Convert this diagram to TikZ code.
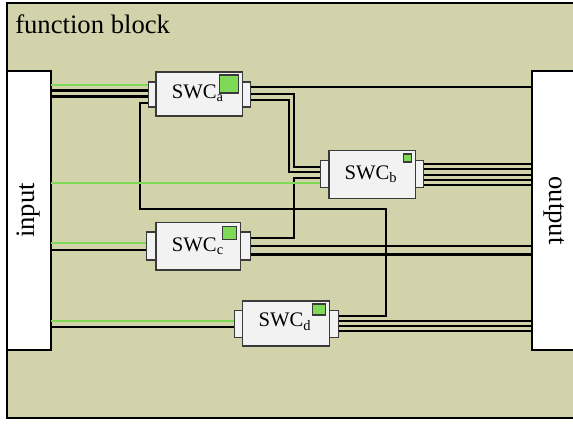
\documentclass[tikz,border=0pt]{standalone}
\usepackage{fontspec}
\setmainfont{Liberation Serif}
\definecolor{bgol}{HTML}{D2D2AB}
\definecolor{wgreen}{HTML}{7DDA52}
\definecolor{sqgreen}{HTML}{7ED957}
\definecolor{boxfill}{HTML}{F2F2F2}
\definecolor{boxline}{HTML}{3A3A3A}
\begin{document}
\begin{tikzpicture}[x=0.75pt,y=-0.75pt,
  wd/.style={minimum width=#1*0.75pt},
  ht/.style={minimum height=#1*0.75pt},
  blk/.style={draw=black,line width=1.2pt,fill=white,inner sep=0pt,outer sep=0pt},
  swcbox/.style={draw=boxline,line width=0.9pt,fill=boxfill,inner sep=0pt,outer sep=0pt},
  port/.style={draw=boxline,line width=0.8pt,fill=boxfill,inner sep=0pt,outer sep=0pt},
  gsq/.style={draw=boxline,line width=0.8pt,fill=sqgreen,inner sep=0pt,outer sep=0pt},
  wire/.style={draw=black,line width=1.6pt},
  gwire/.style={draw=wgreen,line width=1.7pt},
  swctxt/.style={font=\fontsize{15.5}{18}\selectfont,inner sep=0pt,anchor=base west},
  bigtxt/.style={font=\fontsize{20}{24}\selectfont,inner sep=0pt}]
\useasboundingbox (0,0) rectangle (573,426);
\fill[white] (0,0) rectangle (573,426);
% frame
\node[draw=black,line width=1.6pt,fill=bgol,inner sep=0pt,outer sep=0pt,wd=573,ht=415,anchor=north west] (frame) at (7,3) {};
\node[bigtxt,anchor=base west] (title) at (15,33.5) {function block};
% input / output blocks
\node[blk,wd=44,ht=279] (input) at (29,210.5) {};
\node[bigtxt,rotate=90] (intxt) at (input.center) {input};
\node[blk,wd=50,ht=279,anchor=north west] (output) at (532,71) {};
\node[bigtxt,rotate=-90] (outtxt) at (554,210.5) {output};
% SWC port positions
\coordinate (aLp) at (152.3,94.5);
\coordinate (aRp) at (246.6,94.5);
\coordinate (bLp) at (324.9,174);
\coordinate (bRp) at (419.3,174);
\coordinate (cLp) at (151.3,246);
\coordinate (cRp) at (245.7,246);
\coordinate (dLp) at (238.2,324);
\coordinate (dRp) at (334,324);
\node[port,wd=8.5,ht=25] (aL) at (aLp) {};
\node[port,wd=8.2,ht=25] (aR) at (aRp) {};
\node[port,wd=8.3,ht=26.6] (bL) at (bLp) {};
\node[port,wd=8,ht=26.6] (bR) at (bRp) {};
\node[port,wd=9.3,ht=28] (cL) at (cLp) {};
\node[port,wd=10,ht=28] (cR) at (cRp) {};
\node[port,wd=8.3,ht=26.6] (dL) at (dLp) {};
\node[port,wd=9.4,ht=26.6] (dR) at (dRp) {};
% wires: input -> SWCa
\draw[gwire] (input.east |- 0,85) -- (aL.west |- 0,85);
\draw[wire] (input.east |- 0,90.5) -- (aL.west |- 0,90.5);
\draw[wire] (input.east |- 0,96.5) -- (aL.west |- 0,96.5);
% loop SWCa left <-> SWCd right
\coordinate (lp1) at (140,103);
\coordinate (lp2) at (140,209);
\coordinate (lp3) at (386,209);
\coordinate (lp4) at (386,316);
\draw[wire] (aL.west |- lp1) -- (lp1) -- (lp2) -- (lp3) -- (lp4) -- (dR.east |- lp4);
% SWCa right
\draw[wire] (aR.east |- 0,87) -- (output.west |- 0,87);
\coordinate (ab1) at (294.3,94);
\coordinate (ab2) at (294.3,166.7);
\coordinate (ab3) at (289.3,100);
\coordinate (ab4) at (289.3,171.7);
\draw[wire] (aR.east |- ab1) -- (ab1) -- (ab2) -- (bL.west |- ab2);
\draw[wire] (aR.east |- ab3) -- (ab3) -- (ab4) -- (bL.west |- ab4);
% SWCc -> SWCb
\coordinate (cb1) at (294,238);
\coordinate (cb2) at (294,177.7);
\draw[wire] (cR.east |- cb1) -- (cb1) -- (cb2) -- (bL.west |- cb2);
% input -> SWCb
\draw[gwire] (input.east |- 0,183.3) -- (bL.west |- 0,183.3);
% SWCb -> output
\foreach \yy in {164,169.3,174.6,179.9,185.2}
  \draw[wire] (bR.east |- 0,\yy) -- (output.west |- 0,\yy);
% input -> SWCc
\draw[gwire] (input.east |- 0,242.7) -- (cL.west |- 0,242.7);
\draw[wire] (input.east |- 0,250) -- (cL.west |- 0,250);
% SWCc -> output
\draw[wire] (cR.east |- 0,246.3) -- (output.west |- 0,246.3);
\draw[wire] (cR.east |- 0,254.5) -- (output.west |- 0,254.5);
% input -> SWCd
\draw[gwire] (input.east |- 0,320.7) -- (dL.west |- 0,320.7);
\draw[wire] (input.east |- 0,326.7) -- (dL.west |- 0,326.7);
% SWCd -> output
\foreach \yy in {321,326,331}
  \draw[wire] (dR.east |- 0,\yy) -- (output.west |- 0,\yy);
% redraw ports on top of wires
\node[port,wd=8.5,ht=25] (aL2) at (aLp) {};
\node[port,wd=8.2,ht=25] (aR2) at (aRp) {};
\node[port,wd=8.3,ht=26.6] (bL2) at (bLp) {};
\node[port,wd=8,ht=26.6] (bR2) at (bRp) {};
\node[port,wd=9.3,ht=28] (cL2) at (cLp) {};
\node[port,wd=10,ht=28] (cR2) at (cRp) {};
\node[port,wd=8.3,ht=26.6] (dL2) at (dLp) {};
\node[port,wd=9.4,ht=26.6] (dR2) at (dRp) {};
% SWC main boxes
\node[swcbox,wd=86.5,ht=44] (a) at (199.3,94) {};
\node[swcbox,wd=86.3,ht=47.3] (b) at (372.2,174.5) {};
\node[swcbox,wd=84.7,ht=47.7] (c) at (198.3,246.2) {};
\node[swcbox,wd=87,ht=45] (d) at (285.8,323.5) {};
% green squares
\node[gsq,wd=19,ht=18] (ag) at (229,84) {};
\node[gsq,wd=8.5,ht=8] (bg) at (407.3,158) {};
\node[gsq,wd=14,ht=13] (cg) at (229.7,232.7) {};
\node[gsq,wd=12.6,ht=11] (dg) at (319,309.5) {};
% labels
\node[swctxt] (at) at (171.5,98.3) {SWC\textsubscript{a}};
\node[swctxt] (bt) at (344.3,179.3) {SWC\textsubscript{b}};
\node[swctxt] (ct) at (171.7,251.7) {SWC\textsubscript{c}};
\node[swctxt] (dt) at (258.3,326.7) {SWC\textsubscript{d}};
\end{tikzpicture}
\end{document}
